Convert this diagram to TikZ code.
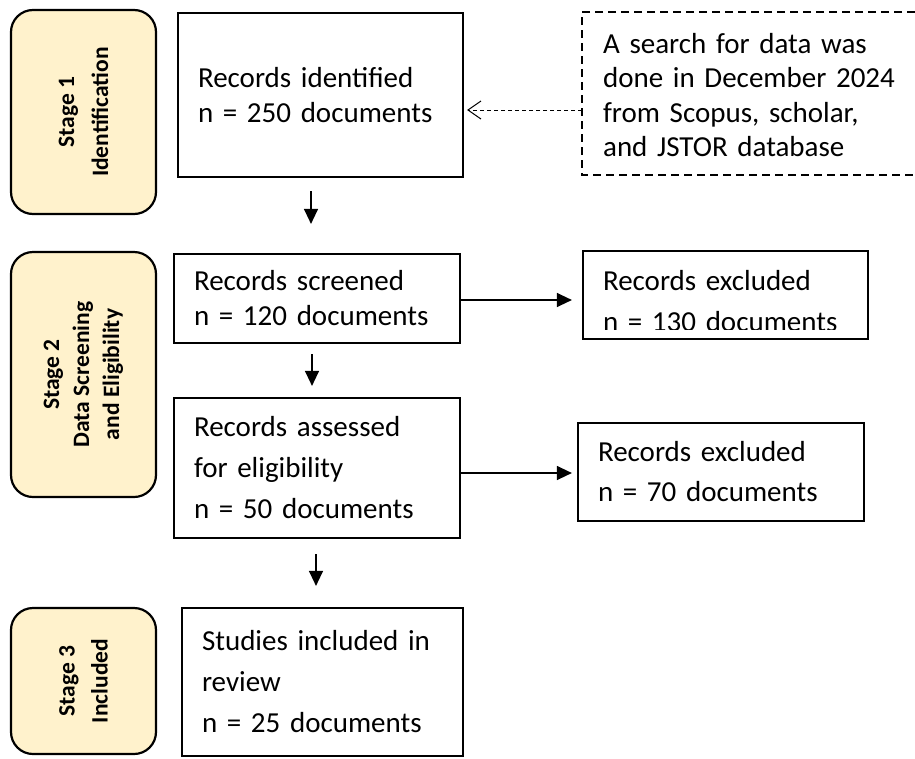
\documentclass[tikz,border=0pt]{standalone}
\usepackage{fontspec}
\setmainfont{Carlito}
\usetikzlibrary{arrows.meta,calc}
\definecolor{stagefill}{HTML}{FFF2CC}
\begin{document}
\begin{tikzpicture}[x=1pt,y=-1pt,
  box/.style={draw, line width=2.2pt, rectangle, inner xsep=20pt, inner ysep=0pt,
              align=left, text width={#1}, font=\fontsize{29}{36}\selectfont},
  fs/.style={font=\fontsize{29}{#1}\selectfont},
  stagebox/.style={draw, line width=2.2pt, rounded corners=22pt, fill=stagefill,
              rotate=90, align=center, inner sep=0pt},
  sfs/.style={font=\bfseries\fontsize{23.5}{#1}\selectfont},
  arr/.style={line width=1.3pt, -{Triangle[length=15pt,width=14pt]}},
  dasharr/.style={line width=1pt, dash pattern=on 4pt off 3pt,
              -{Straight Barb[length=13pt,width=18pt]}},
  dashline/.style={line width=2pt, dash pattern=on 8pt off 5pt}
]
\useasboundingbox (0,0) rectangle (915,758);
\coordinate (edge) at (915,0);

% stage boxes
\node[stagebox, sfs=34, minimum width=204pt, minimum height=145pt] (st1) at (83.5,112)
  {Stage 1\\Identification};
\node[stagebox, sfs=30, minimum width=245pt, minimum height=145pt] (st2) at (83.5,374.5)
  {Stage 2\\Data Screening\\and Eligibility};
\node[stagebox, sfs=33, minimum width=146pt, minimum height=145pt] (st3) at (83.5,681)
  {Stage 3\\Included};

% main boxes
\node[box=245pt, fs=35.5, minimum height=164pt] (rid) at (320.5,95)
  {Records identified\\n = 250 documents};
\node[box=300pt, draw=none, inner xsep=0pt, fs=34.5, anchor=west] (srch) at (602,95)
  {A search for data was\\done in December 2024\\from Scopus, scholar,\\and JSTOR database};
\coordinate (dnw) at ([xshift=-20pt,yshift=83pt]srch.west);
\coordinate (dsw) at ([xshift=-20pt,yshift=-80pt]srch.west);
\coordinate (dw) at ([xshift=-20pt,yshift=-15pt]srch.west);
\draw[dashline] (dnw -| edge) -- (dnw) -- (dsw) -- (dsw -| edge);
\node[box=246pt, fs=35, minimum height=89pt] (rsc) at (317,298.5)
  {Records screened\\n = 120 documents};
\node[box=246pt, fs=41, minimum height=140pt] (ras) at (317,468)
  {Records assessed\\for eligibility\\n = 50 documents};
\node[box=241pt, fs=41, minimum height=148pt] (stu) at (322.5,682)
  {Studies included in\\review\\n = 25 documents};
\node[box=245pt, minimum height=88pt] (ex1) at (725.5,295) {};
\begin{scope}
  \clip (ex1.north west) rectangle ([yshift=10.5pt]ex1.south east);
  \node[box=245pt, draw=none, fs=41, minimum height=88pt] (ex1t) at ([yshift=-6pt]ex1.center)
    {Records excluded\\n = 130 documents};
\end{scope}
\node[box=246pt, fs=40, minimum height=98pt] (ex2) at (721,472)
  {Records excluded\\n = 70 documents};

% connectors
\draw[dasharr, shorten >=3pt] (dw) -- (dw -| rid.east);
\draw[arr] ([xshift=-9.5pt,yshift=-13pt]rid.south) -- ([xshift=-6pt,yshift=29pt]rsc.north);
\draw[arr] ([xshift=-5pt,yshift=-10pt]rsc.south) -- ([xshift=-5pt,yshift=11pt]ras.north);
\draw[arr] ([xshift=-1pt,yshift=-15pt]ras.south) -- ([xshift=-6.5pt,yshift=21pt]stu.north);
\draw[arr, shorten >=10pt] ([yshift=-1.5pt]rsc.east) -- ([yshift=-1.5pt]rsc.east -| ex1.west);
\draw[arr, shorten >=5pt] ([yshift=-5pt]ras.east) -- ([yshift=-5pt]ras.east -| ex2.west);
\end{tikzpicture}
\end{document}
